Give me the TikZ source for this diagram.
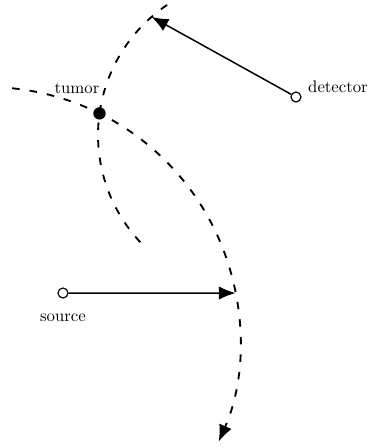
\documentclass[tikz,border=0pt]{standalone}
\usetikzlibrary{arrows.meta,calc}
\tikzset{
  point/.style={circle,draw,fill=white,inner sep=0pt,minimum size=0.21cm,line width=0.7pt},
  spot/.style={circle,fill=black,inner sep=0pt,minimum size=0.26cm},
  ray/.style={line width=1.1pt,dash pattern=on 4.5pt off 6pt},
  beam/.style={-{Latex[length=10pt,width=8pt]},line width=0.9pt},
}
\begin{document}
\begin{tikzpicture}[x=0.021cm,y=-0.021cm]
\useasboundingbox (0,0) rectangle (369,448);
% centres of the two arcs
\coordinate (c1) at (-13,340);
\coordinate (c2) at (255,135);

% dashed arcs
\draw[ray,-{Latex[length=10pt,width=8pt]}] ($(c1)+(-84.3:253)$) arc[start angle=-84.3,end angle=23.7,radius=253];
\draw[ray] ($(c2)+(235.9:157)$) arc[start angle=235.9,end angle=134.5,radius=157];

% points where the beams meet the arcs
\coordinate (dethit) at ($(c2)+(228.8:157)$);
\coordinate (srchit) at ($(c1)+(-10.7:253)$);

% tumor, detector and source
\node[spot] (tumor) at ($(c1)+(-63.6:253)$) {};
\node[point] (detector) at (296,97) {};
\node[point] (source) at (63,293) {};
\node (tumorlabel) at (77,88) {tumor};
\node (detectorlabel) at (338,87) {detector};
\node (sourcelabel) at (63,318) {source};

\draw[beam] (detector) -- (dethit);
\draw[beam] (source) -- (srchit);
\end{tikzpicture}
\end{document}
